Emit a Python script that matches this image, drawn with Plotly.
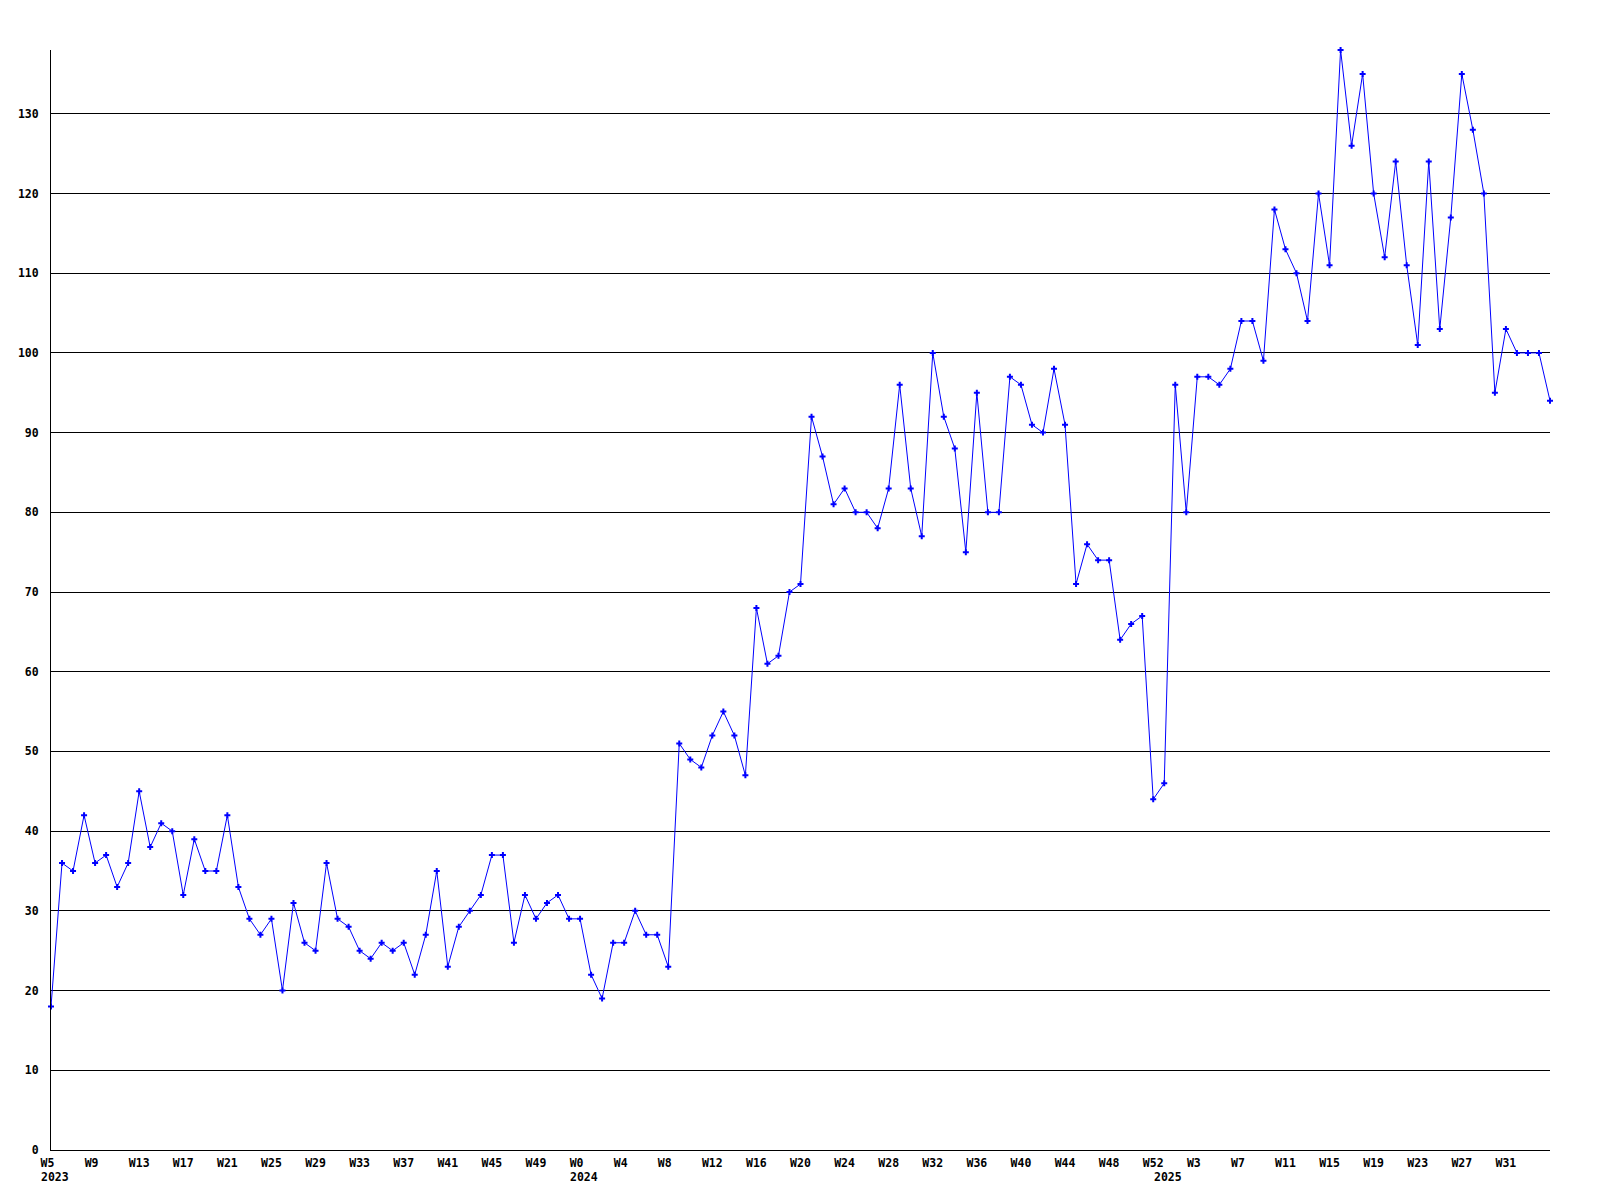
import plotly.graph_objects as go

values = [
    18, 36, 35, 42, 36, 37, 33, 36, 45, 38, 41, 40, 32, 39, 35, 35, 42, 33, 29, 27,
    29, 20, 31, 26, 25, 36, 29, 28, 25, 24, 26, 25, 26, 22, 27, 35, 23, 28, 30,
    32, 37, 37, 26, 32, 29, 31, 32, 29, 29, 22, 19, 26, 26, 30, 27, 27, 23, 51,
    49, 48, 52, 55, 52, 47, 68, 61, 62, 70, 71, 92, 87, 81, 83, 80, 80,
    78, 83, 96, 83, 77, 100, 92, 88, 75, 95, 80, 80, 97, 96, 91, 90, 98, 91, 71,
    76, 74, 74, 64, 66, 67, 44, 46, 96, 80, 97, 97, 96, 98, 104, 104, 99, 118, 113,
    110, 104, 120, 111, 138, 126, 135, 120, 112, 124, 111, 101, 124, 103, 117, 135,
    128, 120, 95, 103, 100, 100, 100, 94,
]
week_index = list(range(len(values)))

tick_labels = ["W5", "W9", "W13", "W17", "W21", "W25", "W29", "W33", "W37", "W41",
               "W45", "W49", "W0", "W4", "W8", "W12", "W16", "W20", "W24", "W28",
               "W32", "W36", "W40", "W44", "W48", "W52", "W3", "W7", "W11", "W15",
               "W19", "W23", "W27", "W31"]
tick_positions = list(range(0, 4 * len(tick_labels), 4))

years = ["2023", "2024", "2025"]
year_positions = [0, 48, 101]

y_ticks = list(range(0, 131, 10))

NB = "\u00a0"
FONT = dict(family="DejaVu Sans Mono", size=11.5, color="black", weight="bold")

fig = go.Figure()
fig.add_trace(go.Scatter(
    x=week_index, y=values, mode="lines+markers",
    line=dict(color="#0000ff", width=1),
    marker=dict(color="#0000ff", symbol="cross", size=5, line=dict(width=0)),
    cliponaxis=False, showlegend=False, hoverinfo="skip",
))

for yr, pos in zip(years, year_positions):
    fig.add_annotation(x=pos, xref="x", y=0, yref="paper", text=yr,
                       showarrow=False, xanchor="left", yanchor="middle",
                       xshift=-12, yshift=-27, font=FONT)

fig.update_layout(
    width=1592, height=1192,
    margin=dict(l=43, r=50, t=42, b=50, autoexpand=False),
    paper_bgcolor="white", plot_bgcolor="white",
    xaxis=dict(
        range=[0, len(values) - 1], tickmode="array", tickvals=tick_positions,
        ticktext=[t + NB * (3 - len(t)) for t in tick_labels],
        showgrid=False, zeroline=False, showline=True, linecolor="black", linewidth=1,
        ticks="", tickfont=FONT, ticklabelstandoff=2, automargin=False,
    ),
    yaxis=dict(
        range=[0, 138], tickmode="array", tickvals=y_ticks,
        ticktext=[NB * (3 - len(str(v))) + str(v) for v in y_ticks],
        showgrid=True, gridcolor="black", gridwidth=1, zeroline=False,
        showline=True, linecolor="black", linewidth=1,
        ticks="", tickfont=FONT, ticklabelstandoff=9, automargin=False,
    ),
)

fig.write_html("out.html")
